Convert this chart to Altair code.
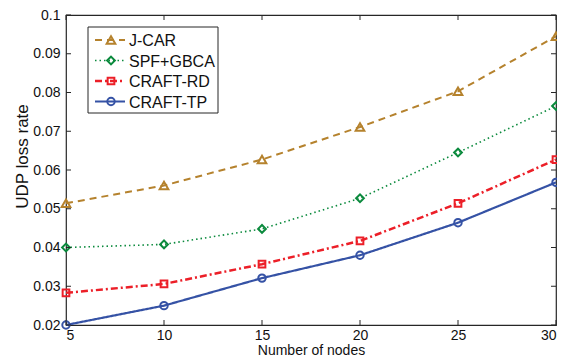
import altair as alt
import pandas as pd

# ---- data ----
nodes = [5, 10, 15, 20, 25, 30]
series_names = ["J-CAR", "SPF+GBCA", "CRAFT-RD", "CRAFT-TP"]
jcar = [0.0514, 0.0560, 0.0627, 0.0711, 0.0803, 0.0945]
spf_gbca = [0.0400, 0.0408, 0.0448, 0.0527, 0.0645, 0.0765]
craft_rd = [0.0283, 0.0306, 0.0357, 0.0417, 0.0514, 0.0627]
craft_tp = [0.0200, 0.0250, 0.0321, 0.0380, 0.0464, 0.0568]
x_ticks = [5, 10, 15, 20, 25, 30]
y_ticks = [0.02, 0.03, 0.04, 0.05, 0.06, 0.07, 0.08, 0.09, 0.1]

values = [jcar, spf_gbca, craft_rd, craft_tp]

# ---- styling ----
W, H = 490, 310
FONT = "Liberation Sans"
INK = "#262626"
TXT = "#111111"
styles = {
    "J-CAR": dict(color="#b5822d", dash=[7, 5], lw=2, shape="triangle-up", size=75),
    "SPF+GBCA": dict(color="#0b8a3d", dash=[1.5, 3], lw=1.6, shape="diamond", size=60),
    "CRAFT-RD": dict(color="#ec1f28", dash=[7, 3, 2, 3], lw=2.5, shape="square", size=45),
    "CRAFT-TP": dict(color="#3552a5", dash=[1, 0], lw=2.2, shape="circle", size=55),
}

rows = []
for name, vals in zip(series_names, values):
    for n, v in zip(nodes, vals):
        rows.append({"series": name, "x": n, "y": v})
df = pd.DataFrame(rows)

xscale = alt.Scale(domain=[5, 30], nice=False, zero=False)
yscale = alt.Scale(domain=[0.02, 0.1], nice=False, zero=False)

common_axis = dict(domain=False, ticks=False, tickSize=0, grid=False, labelOverlap=False,
                   labelFont=FONT, labelFontSize=14, labelColor=TXT, labelBound=False,
                   titleFont=FONT, titleColor=TXT, titleFontWeight="normal")

xaxis = alt.Axis(values=x_ticks, title="Number of nodes", format="d",
                 titleY=29, titleBaseline="alphabetic", titleFontSize=14,
                 labelPadding=3, **common_axis)
yaxis = alt.Axis(values=y_ticks, title="UDP loss rate", format=".2~f",
                 titleX=-44, titleY=141, titleAngle=270, titleAlign="center",
                 titleBaseline="middle", titleFontSize=17,
                 labelPadding=6, **common_axis)

xenc = alt.X("x:Q", scale=xscale, axis=xaxis)
yenc = alt.Y("y:Q", scale=yscale, axis=yaxis)

layers = []
for name in series_names:
    s = styles[name]
    base = alt.Chart(df).transform_filter(alt.datum.series == name)
    layers.append(base.mark_line(color=s["color"], strokeDash=s["dash"], strokeWidth=s["lw"])
                  .encode(x=xenc, y=yenc))
    layers.append(base.mark_point(shape=s["shape"], filled=False, color=s["color"],
                                  strokeWidth=2, size=s["size"], opacity=1)
                  .encode(x=xenc, y=yenc))

# inward ticks on all four sides (same scales and axes as the data layers)
xt = pd.DataFrame({"x": x_ticks})
yt = pd.DataFrame({"y": y_ticks})
layers.append(alt.Chart(xt).mark_rule(color=INK, strokeWidth=1)
              .encode(x=xenc, y=alt.value(H), y2=alt.value(H - 5)))
layers.append(alt.Chart(xt).mark_rule(color=INK, strokeWidth=1)
              .encode(x=xenc, y=alt.value(0), y2=alt.value(5)))
layers.append(alt.Chart(yt).mark_rule(color=INK, strokeWidth=1)
              .encode(y=yenc, x=alt.value(0), x2=alt.value(5)))
layers.append(alt.Chart(yt).mark_rule(color=INK, strokeWidth=1)
              .encode(y=yenc, x=alt.value(W), x2=alt.value(W - 5)))

# legend box (top-left, inside)
anchor = pd.DataFrame({"k": [0]})
layers.append(alt.Chart(anchor).mark_rect(fill="white", stroke=INK, strokeWidth=1)
              .encode(x=alt.value(22), x2=alt.value(152), y=alt.value(12), y2=alt.value(98)))
for i, name in enumerate(series_names):
    s = styles[name]
    ry = 25 + i * 20.5
    layers.append(alt.Chart(anchor).mark_rule(color=s["color"], strokeDash=s["dash"],
                                              strokeWidth=s["lw"])
                  .encode(x=alt.value(29), x2=alt.value(59), y=alt.value(ry)))
    layers.append(alt.Chart(anchor).mark_point(shape=s["shape"], filled=False, color=s["color"],
                                               strokeWidth=2, size=s["size"], opacity=1)
                  .encode(x=alt.value(45), y=alt.value(ry)))
    layers.append(alt.Chart(anchor).mark_text(align="left", baseline="middle", font=FONT,
                                              fontSize=16, color=TXT)
                  .encode(x=alt.value(63), y=alt.value(ry + 1), text=alt.value(name)))

chart = (
    alt.layer(*layers)
    .properties(width=W, height=H, background="white",
                autosize=alt.AutoSizeParams(type="none"),
                padding={"left": 58, "top": 7, "right": 1, "bottom": 31})
    .configure_view(stroke=INK, strokeWidth=1.2)
)

chart.save("out.html", embed_options={"renderer": "svg", "actions": False})
